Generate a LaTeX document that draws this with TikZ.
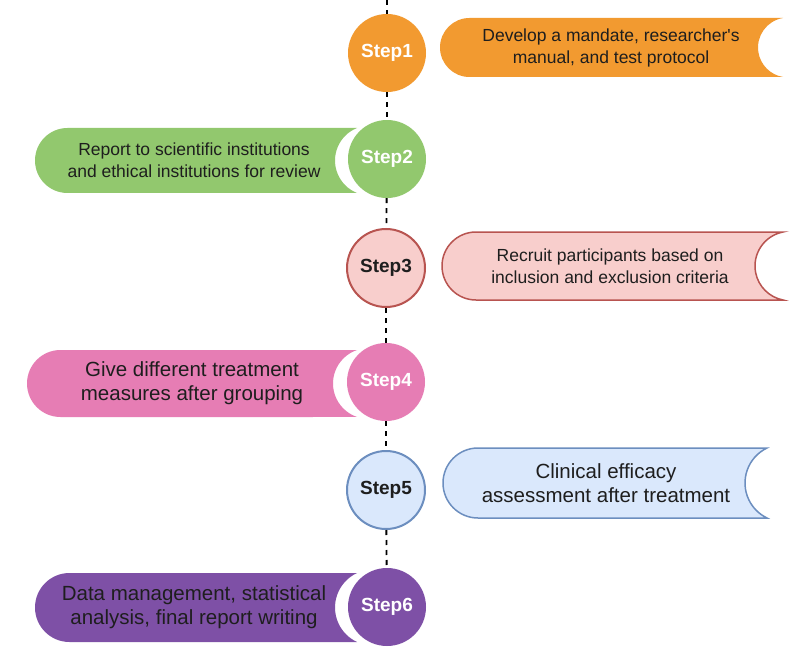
\documentclass[tikz,border=0pt]{standalone}
\usepackage{fontspec}
\setmainfont{Liberation Sans}
\definecolor{corange}{RGB}{242,154,48}
\definecolor{cgreen}{RGB}{146,200,110}
\definecolor{credfill}{RGB}{248,206,204}
\definecolor{credline}{RGB}{184,84,80}
\definecolor{cpink}{RGB}{230,125,180}
\definecolor{cbluefill}{RGB}{218,232,252}
\definecolor{cblueline}{RGB}{108,142,191}
\definecolor{cpurple}{RGB}{126,80,166}
\definecolor{ctext}{RGB}{30,30,30}
\newcommand\drawbanner[6]{%
  \pgfmathsetmacro\bh{(#4-#2)/2}%
  \pgfmathsetmacro\bR{(\bh*\bh+#5*#5)/(2*#5)}%
  \pgfmathsetmacro\ba{asin(\bh/\bR)}%
  \path[#6] (#1+\bh,#2) -- (#3,#2)
    arc[start angle=180+\ba, end angle=180-\ba, radius=\bR]
    -- (#1+\bh,#4) arc[start angle=90, end angle=270, radius=\bh] -- cycle;
}
\tikzset{
  stepc/.style={circle, minimum size=78pt, inner sep=0pt, text=white,
    font=\fontsize{19}{22}\selectfont\bfseries},
  btext/.style={align=center, text=ctext, font=\fontsize{17.5}{22}\selectfont},
  btextL/.style={align=center, text=ctext, font=\fontsize{20.5}{24}\selectfont},
  dline/.style={draw=black, line width=1.8pt, dash pattern=on 5pt off 5pt}
}
\begin{document}
\begin{tikzpicture}[x=1pt,y=-1pt]
\useasboundingbox[fill=white] (0,0) rectangle (800,655);
% banners
\drawbanner{440}{18}{783}{77}{25}{fill=corange}
\drawbanner{35}{128}{357}{193}{22}{fill=cgreen}
\drawbanner{442}{232}{783}{300}{28}{fill=credfill, draw=credline, line width=1.5pt}
\drawbanner{27}{350}{357}{417}{24}{fill=cpink}
\drawbanner{443}{448}{767}{518}{22}{fill=cbluefill, draw=cblueline, line width=1.5pt}
\drawbanner{35}{573}{357}{642}{22}{fill=cpurple}
% banner texts
\node[btext] (t1) at (611,47.5) {Develop a mandate, researcher\textquotesingle s\\manual, and test protocol};
\node[btext] (t2) at (194,160.5) {Report to scientific institutions\\and ethical institutions for review};
\node[btext] (t3) at (610,266) {Recruit participants based on\\inclusion and exclusion criteria};
\node[btextL] (t4) at (192,383.5) {Give different treatment\\measures after grouping};
\node[btextL] (t5) at (606,483) {Clinical efficacy\\assessment after treatment};
\node[btextL] (t6) at (194,607.5) {Data management, statistical\\analysis, final report writing};
% circles
\node[stepc, fill=corange] (s1) at (387,53) {Step1};
\node[stepc, fill=cgreen] (s2) at (387,159) {Step2};
\node[stepc, fill=credfill, draw=credline, line width=2pt, text=ctext] (s3) at (386,268) {Step3};
\node[stepc, fill=cpink] (s4) at (386,382) {Step4};
\node[stepc, fill=cbluefill, draw=cblueline, line width=2pt, text=ctext] (s5) at (386,490) {Step5};
\node[stepc, fill=cpurple] (s6) at (387,607) {Step6};
% dashed connectors
\coordinate (top) at (387,0);
\draw[dline] (top) -- (s1.north);
\draw[dline] (s1) -- (s2);
\draw[dline] (s2) -- (s3);
\draw[dline] (s3) -- (s4);
\draw[dline] (s4) -- (s5);
\draw[dline] (s5) -- (s6);
\end{tikzpicture}
\end{document}
